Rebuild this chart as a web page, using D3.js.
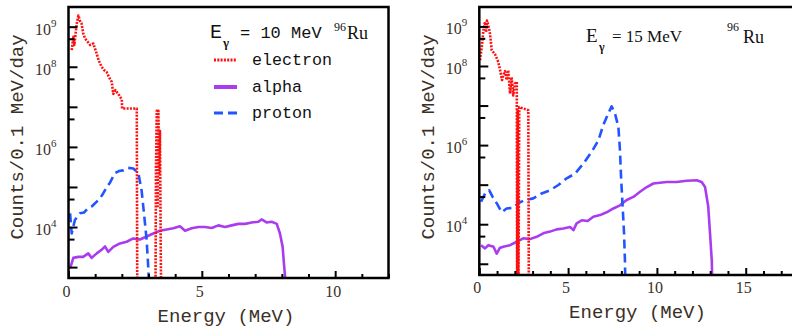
<!DOCTYPE html>
<html>
<head>
<meta charset="utf-8">
<script src="https://cdn.jsdelivr.net/npm/d3@7/dist/d3.min.js"></script>
<style>
  body { margin: 0; background: #fff; }
  svg { display: block; }
</style>
</head>
<body>
<svg id="chart" width="792" height="329"></svg>
<script>
// [energy (MeV), counts / 0.1 MeV / day]; 100 = nothing in this bin (below the axis)
const electron10 = [
  [0.12, 2.6e8], [0.18, 5.6e8], [0.22, 3.5e8], [0.31, 1.2e9], [0.37, 1.9e9], [0.43, 1.4e9],
  [0.49, 1.2e9], [0.55, 6.9e8], [0.62, 5.1e8], [0.73, 4.1e8], [0.81, 3.5e8], [0.93, 3.8e8],
  [1.06, 2.1e8], [1.14, 1.4e8], [1.24, 1.0e8], [1.33, 8.3e7], [1.43, 7.4e7], [1.52, 5.5e7],
  [1.62, 4.2e7], [1.68, 2.1e7], [1.76, 2.6e7], [1.87, 2.1e7], [2.0, 1.5e7], [2.01, 9.1e6],
  [2.56, 9.1e6], [2.58, 100], [3.26, 100], [3.28, 3.0e5], [3.31, 8.0e6], [3.34, 3.0e4],
  [3.37, 8.0e6], [3.40, 2.0e5], [3.43, 2.5e6], [3.46, 2.0e3], [3.48, 100]
];
const alpha10 = [
  [0.06, 930], [0.18, 1.7e3], [0.37, 1.8e3], [0.55, 1.8e3], [0.74, 2.2e3], [0.87, 1.7e3],
  [1.06, 2.2e3], [1.24, 2.7e3], [1.37, 3.3e3], [1.49, 2.4e3], [1.68, 3.2e3], [1.93, 3.9e3],
  [2.18, 4.3e3], [2.43, 5.2e3], [2.68, 4.9e3], [2.93, 5.8e3], [3.18, 6.9e3], [3.43, 8.1e3],
  [3.68, 8.7e3], [3.93, 9.3e3], [4.18, 1.05e4], [4.37, 8.1e3], [4.62, 9.3e3], [4.87, 1.0e4],
  [5.12, 1.0e4], [5.37, 9.5e3], [5.62, 1.1e4], [5.87, 1.0e4], [6.12, 1.1e4], [6.37, 1.2e4],
  [6.62, 1.2e4], [6.87, 1.3e4], [7.12, 1.35e4], [7.24, 1.55e4], [7.43, 1.3e4], [7.62, 1.35e4],
  [7.81, 1.2e4], [7.93, 6.9e3], [8.03, 3.2e3], [8.08, 1.2e3], [8.13, 500], [8.16, 100]
];
const proton10 = [
  [0.06, 2.2e4], [0.12, 6.9e3], [0.24, 1.5e4], [0.43, 2.2e4], [0.58, 2.3e4], [0.74, 3.0e4],
  [0.88, 3.3e4], [1.06, 4.3e4], [1.18, 5.2e4], [1.30, 6.9e4], [1.44, 1.0e5], [1.56, 1.3e5],
  [1.74, 2.2e5], [1.89, 2.5e5], [2.05, 2.6e5], [2.23, 3.0e5], [2.43, 2.9e5], [2.62, 2.2e5],
  [2.74, 8.3e4], [2.83, 2.2e4], [2.93, 4.8e3], [2.99, 1.0e3], [3.06, 100]
];

const electron15 = [
  [0.04, 1.4e8], [0.14, 3.0e8], [0.23, 7.9e8], [0.32, 1.3e9], [0.38, 7.1e8], [0.43, 1.4e9],
  [0.51, 1.07e9], [0.60, 6.6e8], [0.70, 2.5e8], [0.88, 2.0e8], [1.07, 1.26e8], [1.17, 7.8e7],
  [1.28, 4.4e7], [1.35, 5.9e7], [1.45, 7.4e7], [1.54, 4.4e7], [1.63, 7.8e7], [1.73, 2.0e7],
  [1.82, 5.2e7], [1.91, 1.8e7], [2.01, 3.6e7], [2.11, 4.0e7], [2.13, 100], [2.16, 7.6e6],
  [2.20, 100], [2.25, 9.1e6], [2.46, 8.5e6], [2.76, 7.6e6], [2.79, 100]
];
const alpha15 = [
  [0.10, 2.95e3], [0.32, 2.45e3], [0.51, 2.95e3], [0.80, 2.7e3], [0.98, 1.8e3], [1.15, 2.5e3],
  [1.35, 2.7e3], [1.73, 2.95e3], [2.11, 3.6e3], [2.48, 4.4e3], [2.85, 4.2e3], [3.23, 4.8e3],
  [3.60, 5.9e3], [3.98, 6.5e3], [4.36, 7.4e3], [4.73, 7.8e3], [5.11, 8.5e3], [5.30, 7.1e3],
  [5.48, 1.05e4], [5.77, 1.26e4], [6.10, 1.2e4], [6.42, 1.55e4], [6.80, 1.7e4], [7.17, 2.0e4],
  [7.55, 2.5e4], [7.92, 3.0e4], [8.30, 4.1e4], [8.67, 4.9e4], [9.05, 6.6e4], [9.43, 8.7e4],
  [9.80, 1.07e5], [10.17, 1.12e5], [10.55, 1.17e5], [11.11, 1.17e5], [11.68, 1.26e5],
  [12.24, 1.29e5], [12.52, 1.17e5], [12.71, 8.7e4], [12.89, 2.8e4], [12.99, 5.9e3],
  [13.09, 1.2e3], [13.14, 100]
];
const proton15 = [
  [0.10, 3.7e4], [0.23, 4.9e4], [0.38, 6.6e4], [0.56, 7.2e4], [0.75, 4.9e4], [0.98, 3.4e4],
  [1.26, 2.0e4], [1.54, 2.5e4], [1.91, 2.6e4], [2.20, 3.4e4], [2.57, 4.1e4], [3.04, 4.5e4],
  [3.51, 6.0e4], [3.98, 7.2e4], [4.45, 9.8e4], [4.92, 1.45e5], [5.39, 1.9e5], [5.86, 3.4e5],
  [6.33, 6.8e5], [6.70, 1.3e6], [6.98, 3.2e6], [7.26, 6.3e6], [7.45, 9.5e6], [7.64, 6.3e6],
  [7.83, 2.9e6], [7.92, 7.4e5], [7.98, 1.6e5], [8.07, 2.8e4], [8.15, 5.9e3], [8.20, 1.2e3],
  [8.24, 100]
];

const xMajor = [0, 5, 10, 15];
const xMinor = d3.range(0, 19);
const yMajor = [1e3, 1e4, 1e5, 1e6, 1e7, 1e8, 1e9];
const yMinor = [5e3, 5e4, 5e5, 5e6, 5e7, 5e8];
const yLabelled = [4, 6, 8, 9];
const legendNames = ['electron', 'alpha', 'proton'];

const colors = { electron: '#ff1010', alpha: '#aa3cf0', proton: '#2255ff' };
const dashes = { electron: '2,1.3', alpha: null, proton: '9,5' };
const inkText = '#3b3026';

const svg = d3.select('#chart');

const panels = [
  { id: 'p10', x0: 68.5, x1: 388.5, y0: 7, y1: 278, xmax: 12, ymin: 535,
    series: { alpha: alpha10, proton: proton10, electron: electron10 },
    xTitle: [226, 322], yTitle: [17, 137], tickBase: 296.5 },
  { id: 'p15', x0: 479.3, x1: 799, y0: 7, y1: 275, xmax: 18, ymin: 520,
    series: { alpha: alpha15, proton: proton15, electron: electron15 },
    xTitle: [637.5, 318], yTitle: [428, 137], tickBase: 293 }
];

panels.forEach(p => {
  const x = d3.scaleLinear().domain([0, p.xmax]).range([p.x0, p.x1]);
  const y = d3.scaleLog().domain([p.ymin, 3.1e9]).range([p.y1, p.y0]);
  const g = svg.append('g');

  g.append('clipPath').attr('id', 'clip-' + p.id)
    .append('rect')
    .attr('x', p.x0).attr('y', p.y0)
    .attr('width', p.x1 - p.x0).attr('height', p.y1 - p.y0);

  const line = d3.line()
    .x(d => x(d[0]))
    .y(d => y(Math.max(d[1], 100)));

  const plot = g.append('g').attr('clip-path', `url(#clip-${p.id})`);
  Object.entries(p.series).forEach(([name, data]) => {
    plot.append('path')
      .datum(data)
      .attr('d', line)
      .attr('fill', 'none')
      .attr('stroke', colors[name])
      .attr('stroke-width', 2.6)
      .attr('stroke-dasharray', dashes[name])
      .attr('stroke-linejoin', 'round');
  });

  // ticks point inward
  const tickStyle = sel => {
    sel.select('.domain').remove();
    sel.selectAll('line').attr('stroke', '#000').attr('stroke-width', 2);
  };
  g.append('g').attr('transform', `translate(${p.x0},0)`)
    .call(d3.axisRight(y).tickValues(yMajor).tickSize(9).tickFormat(''))
    .call(tickStyle);
  g.append('g').attr('transform', `translate(${p.x0},0)`)
    .call(d3.axisRight(y).tickValues(yMinor).tickSize(6).tickFormat(''))
    .call(tickStyle);
  g.append('g').attr('transform', `translate(0,${p.y1})`)
    .call(d3.axisTop(x).tickValues(xMajor.filter(v => v <= p.xmax)).tickSize(7).tickFormat(''))
    .call(tickStyle);
  g.append('g').attr('transform', `translate(0,${p.y1})`)
    .call(d3.axisTop(x).tickValues(xMinor.filter(v => v <= p.xmax && v % 5)).tickSize(4).tickFormat(''))
    .call(tickStyle);

  // frame
  g.append('rect')
    .attr('x', p.x0).attr('y', p.y0)
    .attr('width', p.x1 - p.x0).attr('height', p.y1 - p.y0)
    .attr('fill', 'none').attr('stroke', '#000').attr('stroke-width', 2.5);

  // tick labels
  g.selectAll('.xlab').data(xMajor.filter(v => v < p.xmax)).join('text')
    .attr('x', d => x(d) - 2).attr('y', p.tickBase)
    .attr('text-anchor', 'middle')
    .attr('font-family', 'Liberation Serif').attr('font-size', 16)
    .attr('fill', inkText)
    .text(d => d);

  const ylab = g.selectAll('.ylab').data(yLabelled).join('text')
    .attr('x', p.x0 - 12).attr('y', d => y(Math.pow(10, d)) + 8)
    .attr('text-anchor', 'end')
    .attr('font-family', 'Liberation Serif').attr('font-size', 16)
    .attr('fill', inkText);
  ylab.append('tspan').text('10');
  ylab.append('tspan').attr('font-size', 11).attr('dy', -8).text(d => d);

  // axis titles
  g.append('text')
    .attr('x', p.xTitle[0]).attr('y', p.xTitle[1])
    .attr('text-anchor', 'middle')
    .attr('font-family', 'Liberation Mono').attr('font-size', 19)
    .attr('fill', inkText)
    .text('Energy (MeV)');
  g.append('text')
    .attr('transform', `translate(${p.yTitle[0] + 6},${p.yTitle[1]}) rotate(-90)`)
    .attr('text-anchor', 'middle')
    .attr('font-family', 'Liberation Mono').attr('font-size', 19)
    .attr('fill', inkText)
    .text('Counts/0.1 MeV/day');
});

// left panel: header + legend
const head = svg.append('g').attr('fill', '#111');
head.append('text').attr('x', 210).attr('y', 38)
  .attr('font-family', 'Liberation Mono').attr('font-size', 20).text('E');
head.append('text').attr('x', 223).attr('y', 47)
  .attr('font-family', 'Liberation Serif').attr('font-weight', 'bold').attr('font-size', 13).text('γ');
head.append('text').attr('x', 240).attr('y', 38)
  .attr('font-family', 'Liberation Mono').attr('font-size', 17).text('= 10 MeV');
head.append('text').attr('x', 334).attr('y', 31)
  .attr('font-family', 'Liberation Serif').attr('font-size', 12).text('96');
head.append('text').attr('x', 347).attr('y', 39)
  .attr('font-family', 'Liberation Serif').attr('font-size', 18).text('Ru');

const legend = svg.append('g');
legendNames.forEach((name, i) => {
  const ly = [60, 87, 113][i];
  legend.append('line')
    .attr('x1', 214).attr('x2', 237).attr('y1', ly).attr('y2', ly)
    .attr('stroke', colors[name])
    .attr('stroke-width', name === 'alpha' ? 4 : 3)
    .attr('stroke-dasharray', dashes[name]);
  legend.append('text')
    .attr('x', 252).attr('y', ly + 5)
    .attr('font-family', 'Liberation Mono').attr('font-size', 16.7)
    .attr('fill', '#111')
    .text(name);
});

// right panel header
const head2 = svg.append('g').attr('fill', '#111');
head2.append('text').attr('x', 586).attr('y', 42)
  .attr('font-family', 'Liberation Serif').attr('font-size', 19).text('E');
head2.append('text').attr('x', 599).attr('y', 51)
  .attr('font-family', 'Liberation Serif').attr('font-weight', 'bold').attr('font-size', 12).text('γ');
head2.append('text').attr('x', 612).attr('y', 42)
  .attr('font-family', 'Liberation Serif').attr('font-size', 17).text('= 15 MeV');
head2.append('text').attr('x', 727).attr('y', 31)
  .attr('font-family', 'Liberation Serif').attr('font-size', 12).text('96');
head2.append('text').attr('x', 743).attr('y', 43)
  .attr('font-family', 'Liberation Serif').attr('font-size', 18).text('Ru');
</script>
</body>
</html>
